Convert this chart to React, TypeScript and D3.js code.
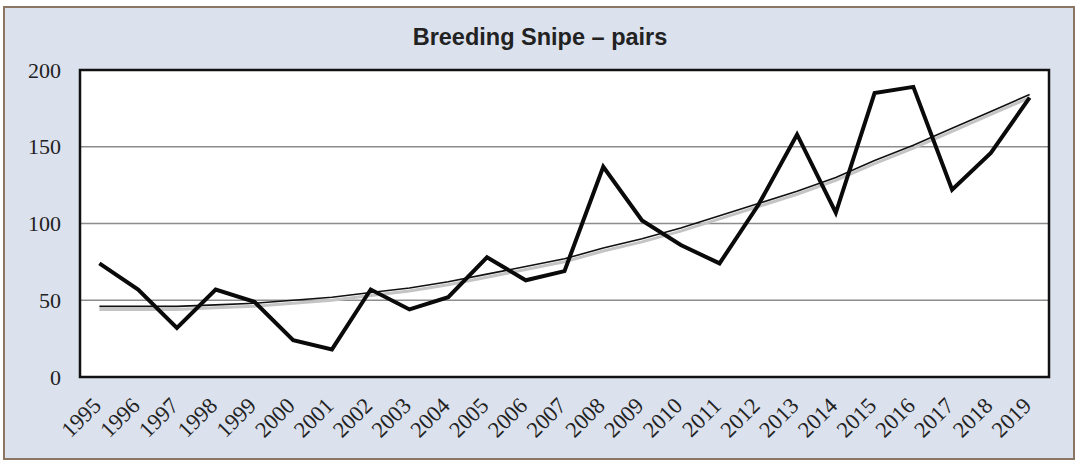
import React from "react";
import * as d3 from "d3";

const years = [
  "1995", "1996", "1997", "1998", "1999", "2000", "2001", "2002", "2003", "2004", "2005", "2006",
  "2007", "2008", "2009", "2010", "2011", "2012", "2013", "2014", "2015", "2016", "2017", "2018", "2019",
];
const pairs = [74, 57, 32, 57, 49, 24, 18, 57, 44, 52, 78, 63, 69, 137, 102, 86, 74, 112, 158, 107, 185, 189, 122, 146, 182];
// trend line values
const trend = [46, 46, 46, 47, 48, 50, 52, 55, 58, 62, 67, 72, 77, 84, 90, 97, 105, 113, 121, 130, 141, 151, 162, 173, 184];
const yTicks = [0, 50, 100, 150, 200];

export default function App() {
  const width = 1079;
  const height = 462;
  const left = 80, right = 1049, top = 70, bottom = 377;

  const x = d3.scaleBand().domain(years).range([left, right]);
  const cx = (d: string) => (x(d) as number) + x.bandwidth() / 2;
  const y = d3.scaleLinear().domain([0, 200]).range([bottom, top]);

  const line = d3.line<number>().x((d, i) => cx(years[i])).y((d) => y(d));

  const serif = "'Liberation Serif', 'Times New Roman', serif";

  return (
    <svg width={width} height={height} style={{ position: "absolute", left: 0, top: 0, background: "#fff" }}>
      <rect x={4} y={7} width={1070} height={452} fill="#dbe1ed" stroke="#8a7663" strokeWidth={2} />
      <text x={540} y={45} textAnchor="middle" fontFamily="'Liberation Sans', Arial, sans-serif" fontWeight="bold" fontSize={23.5} fill="#222">
        Breeding Snipe – pairs
      </text>
      <rect x={left} y={top} width={right - left} height={bottom - top} fill="#fff" />
      {yTicks.filter((t) => t > 0 && t < 200).map((t) => (
        <line key={t} x1={left} x2={right} y1={y(t)} y2={y(t)} stroke="#8c8c8c" strokeWidth={1.5} />
      ))}
      <rect x={left} y={top} width={right - left} height={bottom - top} fill="none" stroke="#111" strokeWidth={2.5} />
      {yTicks.map((t) => (
        <text key={t} x={61} y={y(t)} dy="0.35em" textAnchor="end" fontFamily={serif} fontSize={22} fill="#222">
          {t}
        </text>
      ))}
      {years.map((yr) => (
        <text
          key={yr}
          transform={`translate(${cx(yr) + 3},${bottom + 30}) rotate(-45)`}
          textAnchor="end"
          fontFamily={serif}
          fontSize={22.5}
          fill="#222"
        >
          {yr}
        </text>
      ))}
      <path d={line(trend) as string} transform="translate(0,3)" fill="none" stroke="#c4c4c4" strokeWidth={3} />
      <path d={line(trend) as string} fill="none" stroke="#111" strokeWidth={1.6} />
      <path d={line(pairs) as string} fill="none" stroke="#0a0a0a" strokeWidth={4} strokeLinejoin="miter" />
    </svg>
  );
}
